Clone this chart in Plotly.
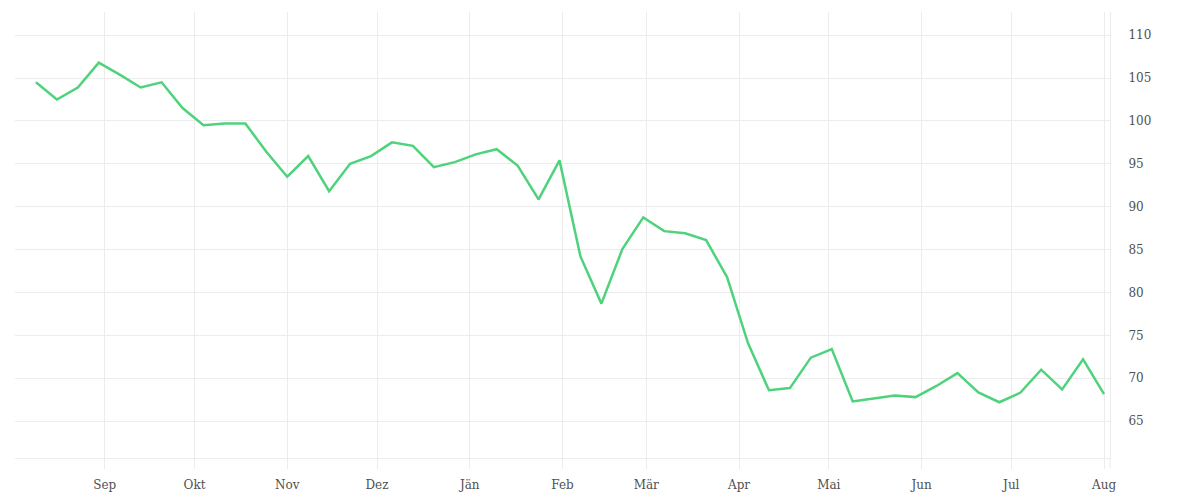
import pandas as pd
import plotly.graph_objects as go

start_date = "2021-08-09"
n_weeks = 52
values = [104.5, 102.5, 103.9, 106.8, 105.4, 103.9, 104.5, 101.5, 99.5, 99.7,
          99.7, 96.4, 93.5, 95.9, 91.8, 95.0, 95.9, 97.5, 97.1, 94.6,
          95.2, 96.1, 96.7, 94.8, 90.85, 95.4, 84.2, 78.7, 85.05, 88.75,
          87.15, 86.9, 86.1, 81.8, 74.1, 68.6, 68.85, 72.4, 73.4, 67.3,
          67.65, 68.0, 67.8, 69.1, 70.6, 68.35, 67.2, 68.3, 71.0, 68.7,
          72.2, 68.15]
dates = pd.date_range(start_date, periods=n_weeks, freq="7D")

month_ticks = pd.date_range("2021-09-01", "2022-08-01", freq="MS")
month_labels = ["Sep", "Okt", "Nov", "Dez", "Jän", "Feb", "Mär", "Apr",
                "Mai", "Jun", "Jul", "Aug"]
y_ticks = [65, 70, 75, 80, 85, 90, 95, 100, 105, 110]

grid = "#ececec"
font = dict(family="DejaVu Serif", size=12, color="#505050")

fig = go.Figure()
fig.add_trace(go.Scatter(x=dates, y=values, mode="lines",
                         line=dict(color="#4ed37c", width=2.5),
                         hoverinfo="x+y"))

fig.update_layout(
    width=1200, height=500,
    margin=dict(l=7, r=98, t=4, b=50),
    paper_bgcolor="white", plot_bgcolor="white",
    showlegend=False,
    font=font,
    xaxis=dict(
        range=["2021-08-02", "2022-08-03"],
        tickvals=month_ticks, ticktext=month_labels,
        showgrid=True, gridcolor=grid, gridwidth=1,
        showline=True, linecolor=grid, linewidth=1,
        ticks="outside", ticklen=10, tickcolor=grid,
        zeroline=False, tickfont=font,
        ticklabelstandoff=6,
    ),
    yaxis=dict(
        side="right",
        range=[60.7, 112.7],
        tickvals=y_ticks,
        showgrid=True, gridcolor=grid, gridwidth=1,
        showline=True, linecolor=grid, linewidth=1,
        ticks="", zeroline=False, tickfont=font,
        ticklabelstandoff=15,
    ),
)
fig.add_shape(type="line", xref="paper", yref="paper", x0=1, x1=1,
              y0=-10 / 446, y1=0, line=dict(color=grid, width=1))

fig.write_html("out.html")
